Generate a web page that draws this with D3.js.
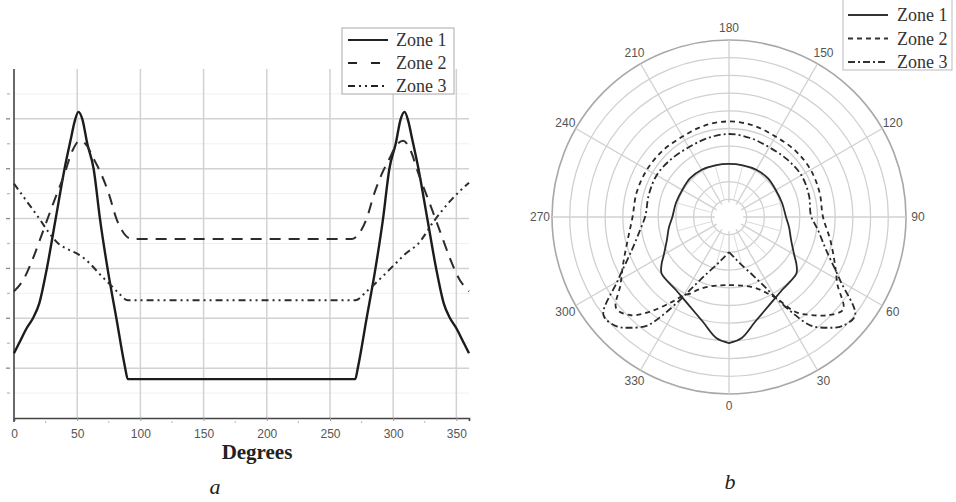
<!DOCTYPE html>
<html lang="en">
<head>
<meta charset="UTF-8">
<title>Zones</title>
<style>
  body { margin: 0; background: #fff; }
  svg { display: block; }
  .tick text { font-family: "Liberation Sans", Arial, sans-serif; font-size: 12px; fill: #555; }
  .serif { font-family: "Liberation Serif", "Times New Roman", serif; }
</style>
</head>
<body>
<svg id="chart" width="956" height="502"></svg>
<script src="https://d3js.org/d3.v7.min.js"></script>
<script>
// ---- chart a: value vs degrees ----
var zone1Deg = [0, 5, 10, 15, 20, 26, 33, 40, 45, 48, 51, 54, 58, 63, 68, 74, 81, 88, 90, 270, 272, 279, 286, 292, 297, 302, 306, 309, 312, 315, 320, 327, 334, 340, 345, 350, 355, 360]
var zone1Val = [1.3, 1.55, 1.8, 2.0, 2.3, 3.0, 4.0, 5.0, 5.6, 5.95, 6.14, 6.0, 5.5, 5.0, 4.0, 3.0, 2.0, 1.0, 0.78, 0.78, 1.0, 2.0, 3.0, 4.0, 5.0, 5.5, 6.0, 6.14, 5.95, 5.6, 5.0, 4.0, 3.0, 2.3, 2.0, 1.8, 1.55, 1.3]
var zone2Deg = [0, 8, 15, 23, 31, 40, 46, 52, 58, 63, 68, 75, 81, 87, 93, 267, 273, 279, 285, 292, 297, 302, 308, 314, 320, 329, 337, 345, 352, 360]
var zone2Val = [2.54, 2.8, 3.2, 3.75, 4.3, 4.9, 5.35, 5.56, 5.45, 5.2, 4.95, 4.5, 4.0, 3.7, 3.59, 3.59, 3.7, 4.0, 4.5, 4.95, 5.2, 5.45, 5.56, 5.35, 4.9, 4.3, 3.75, 3.2, 2.8, 2.54]
var zone3Deg = [0, 10, 20, 27, 35, 43, 51, 60, 68, 76, 83, 90, 270, 279, 290, 300, 310, 320, 332, 345, 360]
var zone3Val = [4.7, 4.35, 4.0, 3.74, 3.5, 3.38, 3.28, 3.1, 2.88, 2.68, 2.5, 2.36, 2.36, 2.54, 2.8, 3.05, 3.3, 3.5, 3.94, 4.35, 4.72]
var degreeTicks = [0, 50, 100, 150, 200, 250, 300, 350]

// ---- chart b: polar ----
var polar1Ang = [0, 6, 14, 24, 36, 50, 55, 60, 70, 80, 90, 105, 120, 135, 150, 165, 180, 195, 210, 225, 240, 255, 270, 280, 290, 300, 305, 310, 324, 336, 346, 354, 360]
var polar1R = [7.12, 6.87, 6.1, 5.5, 5.1, 4.97, 4.65, 4.25, 3.73, 3.45, 3.22, 3.1, 3.05, 3.1, 3.08, 3.02, 3.0, 3.02, 3.08, 3.1, 3.05, 3.1, 3.2, 3.45, 3.73, 4.25, 4.65, 4.97, 5.1, 5.5, 6.1, 6.87, 7.12]
var polar2Ang = [0, 8, 17, 23, 27, 30, 35, 40, 45, 51, 58, 66, 77, 90, 105, 120, 135, 150, 165, 180, 195, 210, 225, 240, 255, 270, 283, 294, 302, 309, 315, 320, 326, 330, 333, 337, 343, 352, 360]
var polar2R = [3.85, 3.9, 4.12, 4.46, 4.86, 5.25, 6.55, 7.23, 7.85, 8.3, 7.23, 6.55, 5.88, 5.31, 5.3, 5.33, 5.3, 5.25, 5.35, 5.4, 5.35, 5.25, 5.3, 5.35, 5.4, 5.45, 5.88, 6.55, 7.23, 8.2, 7.85, 7.0, 5.8, 5.1, 4.86, 4.46, 4.12, 3.9, 3.85]
var polar3Ang = [0, 8, 14, 22.6, 27.5, 30.5, 34, 37, 42, 46, 52, 60, 71, 82, 91, 105, 120, 135, 151, 165, 180, 195, 209, 225, 240, 255, 269, 278, 289, 300, 308, 314, 318, 323, 326, 329.5, 332.5, 337.4, 346, 352, 360]
var polar3R = [1.98, 2.34, 2.74, 3.6, 4.52, 5.42, 6.67, 7.68, 8.42, 8.87, 9.04, 7.29, 5.82, 5.06, 4.63, 4.68, 4.72, 4.62, 4.55, 4.62, 4.69, 4.62, 4.55, 4.62, 4.72, 4.7, 4.72, 5.06, 5.82, 7.29, 9.0, 8.87, 8.42, 7.68, 6.67, 5.42, 4.52, 3.6, 2.74, 2.34, 1.98]
var polarAngleTicks = [0, 30, 60, 90, 120, 150, 180, 210, 240, 270, 300, 330]

var zoneNames = ['Zone 1', 'Zone 2', 'Zone 3']
var dashA = [null, '11,8', '7,4,2,4,2,4']
var dashB = [null, '5,4', '7,3,2,3']

var svg = d3.select('#chart')

// ================= chart a =================
var x = d3.scaleLinear().domain([0, 360]).range([14, 469])
var y = d3.scaleLinear().domain([0, 7]).range([418, 69])

var gA = svg.append('g')

// grid
gA.selectAll('.hminor').data(d3.range(0.5, 7, 1)).enter().append('line')
    .attr('x1', x(0)).attr('x2', x(360))
    .attr('y1', function (d) { return y(d) }).attr('y2', function (d) { return y(d) })
    .attr('stroke', '#f0f0f0').attr('stroke-width', 1)
gA.selectAll('.hgrid').data(d3.range(1, 7)).enter().append('line')
    .attr('x1', x(0)).attr('x2', x(360))
    .attr('y1', function (d) { return y(d) }).attr('y2', function (d) { return y(d) })
    .attr('stroke', '#d2d2d2').attr('stroke-width', 1.5)
gA.selectAll('.vgrid').data(degreeTicks.slice(1)).enter().append('line')
    .attr('x1', function (d) { return x(d) }).attr('x2', function (d) { return x(d) })
    .attr('y1', y(7)).attr('y2', y(0))
    .attr('stroke', '#d2d2d2').attr('stroke-width', 1.5)

// x axis
var xAxis = gA.append('g').attr('transform', 'translate(0,' + y(0) + ')')
    .call(d3.axisBottom(x).tickValues(degreeTicks).tickSize(3).tickPadding(8).tickFormat(d3.format('d')))
xAxis.select('.domain').attr('stroke', '#444').attr('stroke-width', 1.6)
xAxis.selectAll('.tick line').attr('stroke', '#999')
gA.selectAll('.xminor').data(d3.range(25, 360, 50)).enter().append('line')
    .attr('x1', function (d) { return x(d) }).attr('x2', function (d) { return x(d) })
    .attr('y1', y(0) + 3).attr('y2', y(0) + 5)
    .attr('stroke', '#bbb')

// y axis (labels are cut off in the source, only tick stubs remain)
gA.append('line').attr('x1', x(0)).attr('x2', x(0)).attr('y1', y(7)).attr('y2', y(0) + 4)
    .attr('stroke', '#444').attr('stroke-width', 1.6)
gA.selectAll('.ystub').data(d3.range(0.5, 7, 0.5)).enter().append('line')
    .attr('x1', function (d) { return d % 1 === 0 ? 6 : 7 })
    .attr('x2', 10)
    .attr('y1', function (d) { return y(d) }).attr('y2', function (d) { return y(d) })
    .attr('stroke', function (d) { return d % 1 === 0 ? '#888' : '#bbb' })
    .attr('stroke-width', 1.3)

var lineA = d3.line().curve(d3.curveMonotoneX)
    .x(function (d) { return x(d[0]) }).y(function (d) { return y(d[1]) })
var seriesA = [d3.zip(zone1Deg, zone1Val), d3.zip(zone2Deg, zone2Val), d3.zip(zone3Deg, zone3Val)]
gA.selectAll('.zone').data(seriesA).enter().append('path')
    .attr('d', lineA)
    .attr('fill', 'none')
    .attr('stroke', function (d, i) { return i === 0 ? '#1c1c1c' : '#2c2c2c' })
    .attr('stroke-width', function (d, i) { return i === 0 ? 2.4 : 2 })
    .attr('stroke-dasharray', function (d, i) { return dashA[i] })

gA.append('text').attr('class', 'serif').attr('x', 257).attr('y', 459)
    .attr('text-anchor', 'middle').attr('font-size', 21).attr('font-weight', 'bold')
    .attr('fill', '#222').text('Degrees')
gA.append('text').attr('class', 'serif').attr('x', 215).attr('y', 494)
    .attr('text-anchor', 'middle').attr('font-size', 22).attr('font-style', 'italic')
    .attr('fill', '#222').text('a')

// legend a
var legA = gA.append('g').attr('transform', 'translate(342,28)')
legA.append('rect').attr('width', 112).attr('height', 66)
    .attr('fill', '#fff').attr('stroke', '#aaa')
legA.selectAll('.ll').data(zoneNames).enter().append('line')
    .attr('x1', 6).attr('x2', 46)
    .attr('y1', function (d, i) { return 12 + i * 23 }).attr('y2', function (d, i) { return 12 + i * 23 })
    .attr('stroke', '#222').attr('stroke-width', 2.2)
    .attr('stroke-dasharray', function (d, i) { return i === 1 ? '9,14' : dashA[i] })
legA.selectAll('.lt').data(zoneNames).enter().append('text')
    .attr('class', 'serif').attr('x', 54).attr('y', function (d, i) { return 18 + i * 23 })
    .attr('font-size', 18).attr('fill', '#333').text(function (d) { return d })

// ================= chart b =================
var cx = 729, cy = 217, R = 177
var r = d3.scaleLinear().domain([0, 10]).range([0, R])
var gB = svg.append('g').attr('transform', 'translate(' + cx + ',' + cy + ')')

function rad(a) { return a * Math.PI / 180 }

gB.selectAll('.ring').data(d3.range(1, 11)).enter().append('circle')
    .attr('r', function (d) { return r(d) })
    .attr('fill', 'none')
    .attr('stroke', function (d) { return d === 10 ? '#a8a8a8' : '#d0d0d0' })
    .attr('stroke-width', function (d) { return d === 10 ? 1.6 : 1.3 })
gB.selectAll('.spoke').data(polarAngleTicks).enter().append('line')
    .attr('x1', function (d) { return r(0.8) * Math.sin(rad(d)) })
    .attr('y1', function (d) { return r(0.8) * Math.cos(rad(d)) })
    .attr('x2', function (d) { return r(10) * Math.sin(rad(d)) })
    .attr('y2', function (d) { return r(10) * Math.cos(rad(d)) })
    .attr('stroke', '#d0d0d0').attr('stroke-width', 1.3)
gB.selectAll('.spoke2').data(d3.range(15, 360, 30)).enter().append('line')
    .attr('x1', function (d) { return r(1) * Math.sin(rad(d)) })
    .attr('y1', function (d) { return r(1) * Math.cos(rad(d)) })
    .attr('x2', function (d) { return r(3) * Math.sin(rad(d)) })
    .attr('y2', function (d) { return r(3) * Math.cos(rad(d)) })
    .attr('stroke', '#dedede').attr('stroke-width', 1.1)

gB.selectAll('.alabel').data(polarAngleTicks).enter().append('text')
    .attr('x', function (d) { return 189 * Math.sin(rad(d)) })
    .attr('y', function (d) { return 189 * Math.cos(rad(d)) + 4 })
    .attr('text-anchor', 'middle')
    .attr('font-family', '"Liberation Sans", Arial, sans-serif').attr('font-size', 12)
    .attr('fill', '#555').text(function (d) { return d })

var lineB = d3.lineRadial().curve(d3.curveCatmullRom.alpha(0.5))
    .angle(function (d) { return Math.PI - rad(d[0]) })
    .radius(function (d) { return r(d[1]) })
var seriesB = [d3.zip(polar1Ang, polar1R), d3.zip(polar2Ang, polar2R), d3.zip(polar3Ang, polar3R)]
gB.selectAll('.pzone').data(seriesB).enter().append('path')
    .attr('d', lineB)
    .attr('fill', 'none')
    .attr('stroke', '#2a2a2a')
    .attr('stroke-width', 1.8)
    .attr('stroke-dasharray', function (d, i) { return dashB[i] })

svg.append('text').attr('class', 'serif').attr('x', 730).attr('y', 489)
    .attr('text-anchor', 'middle').attr('font-size', 22).attr('font-style', 'italic')
    .attr('fill', '#222').text('b')

// legend b
var legB = svg.append('g').attr('transform', 'translate(843,0)')
legB.append('rect').attr('x', 0).attr('y', -1).attr('width', 109).attr('height', 71)
    .attr('fill', '#fff').attr('stroke', '#bbb')
legB.selectAll('.ll').data(zoneNames).enter().append('line')
    .attr('x1', 5).attr('x2', 45)
    .attr('y1', function (d, i) { return 15 + i * 23.5 }).attr('y2', function (d, i) { return 15 + i * 23.5 })
    .attr('stroke', '#333').attr('stroke-width', 1.8)
    .attr('stroke-dasharray', function (d, i) { return dashB[i] })
legB.selectAll('.lt').data(zoneNames).enter().append('text')
    .attr('class', 'serif').attr('x', 54).attr('y', function (d, i) { return 21 + i * 23.5 })
    .attr('font-size', 18).attr('fill', '#333').text(function (d) { return d })
</script>
</body>
</html>
